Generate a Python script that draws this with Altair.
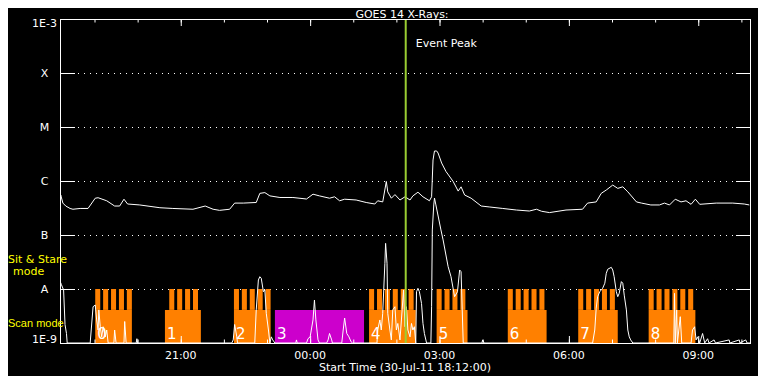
import altair as alt
import pandas as pd

FONT = "DejaVu Sans"
W, H = 690, 324

# ---- data (time = minutes after start 30-Jul-11 18:12:00) ----
T_MAX = 960
long_t = [0, 1, 4, 8, 14, 18, 28, 39, 49, 53, 65, 76, 83, 89, 94, 111, 139, 157, 185, 202,
          213, 222, 236, 243, 255, 273, 278, 285, 292, 306, 324, 343, 352, 361, 375, 382, 389, 396, 412, 426,
          438, 442, 449, 454, 456, 461, 466, 473, 480, 487, 491, 498, 505, 514, 517, 519, 521, 524, 526, 531,
          537, 547, 554, 558, 563, 572, 586, 598, 616, 635, 653, 663, 670, 681, 704, 727, 734, 746, 753, 760,
          769, 776, 783, 790, 802, 809, 822, 834, 841, 848, 856, 864, 871, 878, 884, 890, 913, 936, 952, 959]
long_flux = [3.9e-7, 5.5e-7, 3.9e-7, 3.44e-7, 3.1e-7, 3.0e-7, 3.1e-7, 3.1e-7, 4.8e-7, 4.9e-7,
             4.3e-7, 3.44e-7, 3.44e-7, 4.6e-7, 3.75e-7, 3.6e-7, 3.2e-7, 3.1e-7, 3.0e-7, 3.44e-7,
             3.0e-7, 2.86e-7, 3.0e-7, 3.9e-7, 3.9e-7, 4.0e-7, 5.9e-7, 6.1e-7, 5.3e-7, 4.95e-7,
             4.95e-7, 4.64e-7, 5.7e-7, 5.3e-7, 4.8e-7, 5.1e-7, 4.3e-7, 4.6e-7, 4.45e-7, 4.0e-7,
             3.75e-7, 4.3e-7, 4.1e-7, 9.8e-7, 6.3e-7, 4.8e-7, 5.6e-7, 4.45e-7, 5.1e-7, 4.45e-7,
             5.3e-7, 6.2e-7, 5.1e-7, 4.3e-7, 5.1e-7, 2.45e-6, 3.59e-6, 3.6e-6, 3.3e-6, 2.15e-6,
             1.5e-6, 9.8e-7, 6.5e-7, 7.8e-7, 5.5e-7, 4.8e-7, 3.44e-7, 3.3e-7, 3.1e-7, 2.9e-7,
             2.78e-7, 3.0e-7, 2.75e-7, 2.6e-7, 2.9e-7, 3.0e-7, 3.9e-7, 4.1e-7, 5.9e-7, 6.8e-7,
             8.4e-7, 7.3e-7, 7.8e-7, 6.3e-7, 4.1e-7, 3.9e-7, 3.6e-7, 3.6e-7, 3.9e-7, 3.6e-7,
             4.6e-7, 4.1e-7, 4.3e-7, 3.7e-7, 4.6e-7, 3.7e-7, 3.9e-7, 3.9e-7, 3.75e-7, 3.6e-7]

short_points = [
    (0, 1.4e-8), (2, 1.2e-8), (5, 9.6e-9), (7, 2.2e-9), (9, 1.5e-9), (10, 1e-9),
    (42, 1e-9), (46, 4.7e-9), (49, 5.05e-9), (51, 2.67e-9), (53, 1.74e-9), (54, 4.1e-9), (56, 2.0e-9),
    (58, 1.3e-9), (60, 2.0e-9), (63, 1.3e-9), (65, 1.74e-9), (67, 1e-9),
    (75, 1e-9), (76, 1.74e-9), (78, 1e-9), (89, 1e-9), (90, 2.5e-9), (92, 1e-9),
    (106, 1e-9), (107, 1.2e-9), (108, 1e-9),
    (239, 1e-9), (241, 1.14e-9), (243, 2.2e-9), (246, 1.3e-9), (247, 1e-9),
    (271, 1e-9), (273, 4.1e-9), (276, 1.47e-8), (278, 1.69e-8), (280, 1.58e-8), (283, 8.9e-9), (285, 9.6e-9),
    (287, 3.55e-9), (290, 1.74e-9), (292, 1e-9), (294, 1.3e-9), (296, 1.14e-9), (299, 1e-9),
    (328, 1e-9), (329, 1.14e-9), (330, 1e-9),
    (343, 1e-9), (345, 1.2e-9), (348, 1.3e-9), (352, 2.67e-9), (354, 6.25e-9), (356, 2.67e-9), (359, 1.14e-9), (361, 1e-9),
    (371, 1e-9), (373, 1.14e-9), (375, 1.5e-9), (378, 1.14e-9), (379, 1e-9),
    (392, 1e-9), (394, 1.74e-9), (396, 2.9e-9), (399, 1.5e-9), (402, 1.3e-9), (405, 1.05e-9), (407, 1e-9),
    (441, 1e-9), (442, 1.74e-9), (445, 2.67e-9), (447, 1.74e-9), (449, 3.55e-9), (452, 3.0e-8), (453, 7.0e-8),
    (455, 3.0e-8), (456, 3.55e-9), (459, 1.74e-9), (461, 1.14e-9), (463, 4.1e-9), (466, 4.7e-9), (468, 1.74e-9),
    (470, 2.3e-9), (473, 1.14e-9), (476, 4.1e-9), (478, 9.6e-9), (480, 2.0e-9), (482, 4.7e-9), (484, 1.74e-9),
    (487, 1.3e-9), (489, 2.3e-9), (491, 1.74e-9), (493, 2.0e-9), (495, 1e-9), (496, 8.9e-9), (498, 1.03e-8),
    (500, 8.9e-9), (503, 5.4e-9), (505, 2.3e-9), (507, 1.5e-9), (510, 1e-9),
    (516, 1e-9), (517, 4.7e-9), (518, 1.24e-7), (520, 3.6e-7), (521, 4.84e-7), (523, 3.6e-7), (530, 1.24e-7),
    (533, 8.1e-8), (540, 2.59e-8), (544, 1.69e-8), (549, 7.2e-9), (553, 8.9e-9), (556, 2.25e-8), (558, 2.09e-8),
    (561, 1e-9), (587, 1e-9), (588, 1.14e-9), (590, 1e-9),
    (741, 1e-9), (744, 1.74e-9), (746, 4.4e-9), (748, 7.2e-9), (751, 8.9e-9), (753, 9.6e-9), (755, 1.03e-8),
    (758, 1.28e-8), (760, 1.95e-8), (762, 2.32e-8), (767, 2.52e-8), (769, 2.25e-8), (771, 1.69e-8), (774, 8.9e-9),
    (776, 7.2e-9), (778, 8.3e-9), (781, 1.37e-8), (783, 1.28e-8), (785, 7.7e-9), (788, 4.1e-9), (790, 1.74e-9),
    (792, 1.3e-9), (794, 1.14e-9), (797, 1e-9),
    (854, 1e-9), (855, 8.3e-9), (856, 1e-9), (858, 4.1e-9), (859, 1e-9), (863, 3.07e-9), (865, 1e-9),
    (878, 1e-9), (880, 1.74e-9), (883, 2.0e-9), (885, 1.14e-9), (887, 1.3e-9), (890, 1e-9), (894, 1.5e-9),
    (897, 1e-9), (901, 1.2e-9), (903, 1e-9), (910, 1.14e-9), (912, 1e-9), (931, 1.14e-9), (932, 1e-9),
    (945, 1.14e-9), (946, 1e-9), (954, 1.14e-9), (956, 1e-9), (960, 1e-9),
]

# observing blocks (scan mode base + sit & stare teeth)
block_labels = ["0", "1", "2", "3", "4", "5", "6", "7", "8"]
block_start = [49, 146, 242, 299, 430, 524, 623, 721, 819]
block_end = [100, 196, 293, 423, 495, 567, 677, 776, 884]
block_colors = ["#ff8000", "#ff8000", "#ff8000", "#cc00cc", "#ff8000",
                "#ff8000", "#ff8000", "#ff8000", "#ff8000"]
stare_starts = [[49, 60, 71, 82, 93], [152, 163, 174, 185], [242, 253, 264, 275, 286], [],
                [430, 441, 452, 463, 474, 485], [524, 535, 546, 557], [623, 634, 645, 656, 667],
                [721, 732, 743, 754, 765], [819, 830, 841, 852, 863, 874]]
STARE_LEN = 7
FLOOR = 1e-9
SCAN_LEVEL = 4.1e-9
STARE_LEVEL = 1e-8

event_t = [481]
event_label = ["Event Peak"]

y_decades = [1e-9, 1e-8, 1e-7, 1e-6, 1e-5, 1e-4, 1e-3]
y_labels = ["1E-9", "A", "B", "C", "M", "X", "1E-3"]
grid_levels = [1e-8, 1e-7, 1e-6, 1e-5, 1e-4]
x_major = [168, 348, 528, 708, 888]
x_major_labels = ["21:00", "00:00", "03:00", "06:00", "09:00"]
x_hours = [48, 108, 168, 228, 288, 348, 408, 468, 528, 588, 648, 708, 768, 828, 888, 948]
title_text = "GOES 14 X-Rays:"
x_title_text = "Start Time (30-Jul-11 18:12:00)"

# ---- build ----
xs = alt.Scale(domain=[0, T_MAX], nice=False, zero=False)
ys = alt.Scale(type="log", domain=[1e-9, 1e-3], nice=False)


def X(field):
    return alt.X(field, type="quantitative", scale=xs, axis=None)


def Y(field):
    return alt.Y(field, type="quantitative", scale=ys, axis=None)


long_df = pd.DataFrame({"t": long_t, "f": long_flux})
short_df = pd.DataFrame(short_points, columns=["t", "f"])

rects = []
for s, e, c, teeth in zip(block_start, block_end, block_colors, stare_starts):
    rects.append({"t0": s, "t1": e, "f0": FLOOR, "f1": SCAN_LEVEL, "c": c})
    for ts in teeth:
        rects.append({"t0": ts, "t1": ts + STARE_LEN, "f0": SCAN_LEVEL, "f1": STARE_LEVEL, "c": c})
rect_df = pd.DataFrame(rects)
blk_df = pd.DataFrame({"t": block_start, "lab": block_labels})

dummy = alt.Data(values=[{}])

blocks = alt.Chart(rect_df).mark_rect().encode(
    x=X("t0"), x2="t1", y=Y("f0"), y2="f1", color=alt.Color("c:N", scale=None))

grid = alt.Chart(pd.DataFrame({"f": grid_levels})).mark_rule(
    color="white", strokeDash=[1, 5], yOffset=0.5
).encode(y=Y("f"), x=alt.value(18), x2=alt.value(676))

dec_df = pd.DataFrame({"f": y_decades, "lab": y_labels})
ytick_l = alt.Chart(dec_df).mark_rule(color="white", yOffset=0.5).encode(
    y=Y("f"), x=alt.value(0), x2=alt.value(15))
ytick_r = alt.Chart(dec_df).mark_rule(color="white", yOffset=0.5).encode(
    y=Y("f"), x=alt.value(676), x2=alt.value(690))

hours_df = pd.DataFrame({"t": x_hours})
major_df = pd.DataFrame({"t": x_major, "lab": x_major_labels})
xt_top = alt.Chart(hours_df).mark_rule(color="white", xOffset=0.5).encode(
    x=X("t"), y=alt.value(0), y2=alt.value(3.5))
xt_bot = alt.Chart(hours_df).mark_rule(color="white", xOffset=0.5).encode(
    x=X("t"), y=alt.value(320.5), y2=alt.value(324))
xt_top_m = alt.Chart(major_df).mark_rule(color="white", xOffset=0.5).encode(
    x=X("t"), y=alt.value(0), y2=alt.value(7))
xt_bot_m = alt.Chart(major_df).mark_rule(color="white", xOffset=0.5).encode(
    x=X("t"), y=alt.value(317), y2=alt.value(324))

frame = [
    alt.Chart(dummy).mark_rule(color="white", xOffset=0.5).encode(x=alt.value(0), y=alt.value(0), y2=alt.value(H)),
    alt.Chart(dummy).mark_rule(color="white", xOffset=0.5).encode(x=alt.value(W), y=alt.value(0), y2=alt.value(H)),
    alt.Chart(dummy).mark_rule(color="white", yOffset=0.5).encode(y=alt.value(0), x=alt.value(0), x2=alt.value(W + 1)),
    alt.Chart(dummy).mark_rule(color="white", yOffset=0.5).encode(y=alt.value(H), x=alt.value(0), x2=alt.value(W + 1)),
]

txt = dict(color="white", font=FONT, fontSize=11)

# axis labels drawn as text
ylab_mid = alt.Chart(dec_df.iloc[1:-1]).mark_text(align="center", baseline="middle", dy=1, **txt).encode(
    y=Y("f"), x=alt.value(-15.5), text="lab:N")
ylab_bot = alt.Chart(dec_df.iloc[:1]).mark_text(align="center", baseline="alphabetic", **txt).encode(
    y=Y("f"), x=alt.value(-15.5), text="lab:N")
ylab_top = alt.Chart(dec_df.iloc[-1:]).mark_text(align="center", baseline="alphabetic", dy=8, **txt).encode(
    y=Y("f"), x=alt.value(-15.5), text="lab:N")
xlab = alt.Chart(major_df).mark_text(align="center", baseline="alphabetic", **txt).encode(
    x=X("t"), y=alt.value(340), text="lab:N")
xtitle = alt.Chart(dummy).mark_text(text=x_title_text, align="center", baseline="alphabetic", **txt).encode(
    x=alt.value(W / 2), y=alt.value(352))
title = alt.Chart(dummy).mark_text(text=title_text, align="center", baseline="alphabetic",
                                   color="white", font=FONT, fontSize=11).encode(
    x=alt.value(W / 2 - 3), y=alt.value(-1))

blk_text = alt.Chart(blk_df).mark_text(
    color="white", font=FONT, fontSize=15, align="left", baseline="alphabetic", dx=2
).encode(x=X("t"), y=alt.value(320), text="lab:N")

long_line = alt.Chart(long_df).mark_line(color="white", strokeWidth=1, clip=True).encode(
    x=X("t"), y=Y("f"))
short_line = alt.Chart(short_df).mark_line(color="white", strokeWidth=1, clip=True).encode(
    x=X("t"), y=Y("f"))

ev_df = pd.DataFrame({"t": event_t, "lab": event_label})
ev_line = alt.Chart(ev_df).mark_rule(color="#9acd32", strokeWidth=2).encode(
    x=X("t"), y=alt.value(0), y2=alt.value(H))
ev_text = alt.Chart(ev_df).mark_text(align="left", baseline="alphabetic", dx=10, **txt).encode(
    x=X("t"), y=alt.value(28), text="lab:N")

side = [
    alt.Chart(dummy).mark_text(text="Sit & Stare", color="yellow", font=FONT, fontSize=11,
                               align="left", baseline="alphabetic").encode(x=alt.value(-52), y=alt.value(244)),
    alt.Chart(dummy).mark_text(text="mode", color="yellow", font=FONT, fontSize=11,
                               align="left", baseline="alphabetic").encode(x=alt.value(-47), y=alt.value(256)),
    alt.Chart(dummy).mark_text(text="Scan mode", color="yellow", font="Liberation Sans", fontSize=11,
                               align="left", baseline="alphabetic").encode(x=alt.value(-52), y=alt.value(308)),
]

chart = alt.layer(
    grid, blocks, blk_text, ytick_l, ytick_r, xt_top, xt_bot, xt_top_m, xt_bot_m,
    long_line, short_line, ev_line, ev_text, *frame,
    ylab_mid, ylab_bot, ylab_top, xlab, xtitle, title, *side
).properties(
    width=W, height=H,
    autosize=alt.AutoSizeParams(type="none"),
    padding={"left": 52, "top": 11, "right": 8, "bottom": 33},
    background="black",
).configure_view(stroke=None)

chart.save("out.html", embed_options={"renderer": "svg", "actions": False})
